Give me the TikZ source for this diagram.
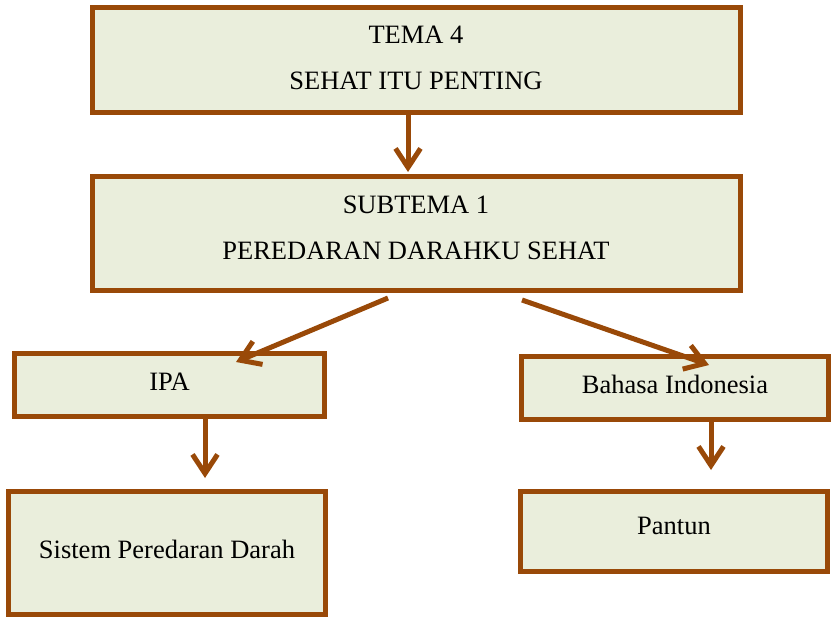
\documentclass[tikz,border=0pt]{standalone}
\usepackage{fontspec}
\setmainfont{Liberation Serif}
\usetikzlibrary{arrows.meta}
\definecolor{brn}{RGB}{153,73,8}
\definecolor{boxfill}{RGB}{234,238,220}
\tikzset{
  box/.style={draw=brn, fill=boxfill, line width=5pt, rectangle, inner sep=0pt,
    align=center, font=\fontsize{26.5}{46}\selectfont},
  arr/.style={draw=brn, line width=5pt, -{Straight Barb[length=19pt,width=25pt]}}
}
\begin{document}
\begin{tikzpicture}[x=1pt,y=-1pt]
\useasboundingbox (0,0) rectangle (834,618);
\node[box, minimum width=648pt, minimum height=105pt, text depth=4pt] (b1) at (416,60)
  {TEMA 4\\SEHAT ITU PENTING};
\node[box, minimum width=648pt, minimum height=114pt, text depth=10pt] (b2) at (416,233)
  {SUBTEMA 1\\PEREDARAN DARAHKU SEHAT};
\node[box, minimum width=310pt, minimum height=63pt, text depth=6pt] (ipa) at (169.5,385) {IPA};
\node[box, minimum width=317.5pt, minimum height=122.5pt, text depth=8pt] (sis) at (167,553)
  {Sistem Peredaran Darah};
\node[box, minimum width=306.5pt, minimum height=63pt, text depth=8pt] (bi) at (675,388)
  {Bahasa Indonesia};
\node[box, minimum width=307pt, minimum height=80pt, text depth=11pt] (pan) at (674,531.5)
  {Pantun};
\coordinate (a1e) at (408,172);
\coordinate (dls) at (388,298);
\coordinate (dle) at (236,362);
\coordinate (drs) at (522,300);
\coordinate (dre) at (709,365);
\coordinate (a2e) at (205,478);
\coordinate (a3e) at (711,470);
\draw[arr] (b1.south -| a1e) -- (a1e);
\draw[arr] (dls) -- (dle);
\draw[arr] (drs) -- (dre);
\draw[arr] (ipa.south -| a2e) -- (a2e);
\draw[arr] (bi.south -| a3e) -- (a3e);
\end{tikzpicture}
\end{document}
